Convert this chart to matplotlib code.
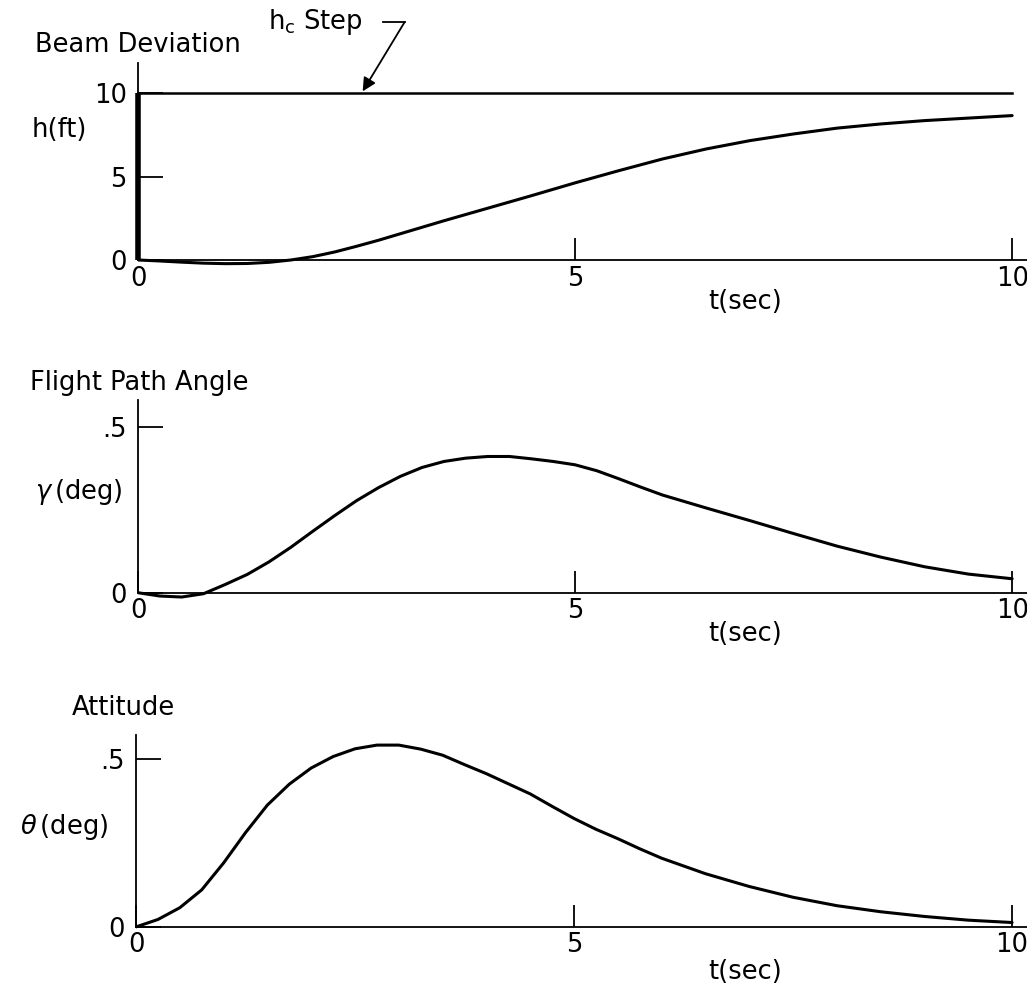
import numpy as np
import matplotlib
matplotlib.use("Agg")
import matplotlib.pyplot as plt

# beam deviation h(ft) vs t(sec)
t_h = [0, 0.25, 0.5, 0.75, 1.0, 1.25, 1.5, 1.75, 2.0, 2.25, 2.5, 2.75, 3.0, 3.5, 4.0, 4.5, 5.0, 5.5, 6.0,
       6.5, 7.0, 7.5, 8.0, 8.5, 9.0, 9.5, 10]
h = [0, -0.06, -0.13, -0.19, -0.22, -0.21, -0.14, 0.0, 0.2, 0.48, 0.82, 1.18, 1.57, 2.35, 3.1, 3.85, 4.62,
     5.35, 6.05, 6.65, 7.15, 7.55, 7.9, 8.15, 8.35, 8.5, 8.65]

# commanded step h_c
step_t = [0, 0, 10]
step_h = [0, 10, 10]

# flight path angle gamma(deg)
t_g = [0, 0.25, 0.5, 0.75, 1.0, 1.25, 1.5, 1.75, 2.0, 2.25, 2.5, 2.75, 3.0, 3.25, 3.5, 3.75, 4.0, 4.25,
       4.5, 4.75, 5.0, 5.25, 5.5, 5.75, 6.0, 6.5, 7.0, 7.5, 8.0, 8.5, 9.0, 9.5, 10]
gamma = [0, -0.01, -0.013, -0.003, 0.025, 0.055, 0.093, 0.137, 0.185, 0.232, 0.277, 0.316, 0.35, 0.377,
         0.395, 0.405, 0.41, 0.41, 0.403, 0.395, 0.385, 0.367, 0.343, 0.318, 0.294, 0.255, 0.217, 0.178,
         0.14, 0.107, 0.078, 0.056, 0.042]

# attitude theta(deg)
t_th = [0, 0.25, 0.5, 0.75, 1.0, 1.25, 1.5, 1.75, 2.0, 2.25, 2.5, 2.75, 3.0, 3.25, 3.5, 3.75, 4.0, 4.25,
        4.5, 4.75, 5.0, 5.25, 5.5, 5.75, 6.0, 6.5, 7.0, 7.5, 8.0, 8.5, 9.0, 9.5, 10]
theta = [0, 0.022, 0.057, 0.11, 0.19, 0.28, 0.362, 0.424, 0.472, 0.506, 0.529, 0.54, 0.54, 0.528, 0.51,
         0.482, 0.455, 0.425, 0.395, 0.358, 0.322, 0.29, 0.262, 0.232, 0.204, 0.158, 0.12, 0.088, 0.063,
         0.045, 0.031, 0.02, 0.013]

W, H = 1027, 986
FS = 18.5
plt.rcParams['font.family'] = 'DejaVu Sans'
plt.rcParams['font.size'] = FS


def fx(px):
    return px / W


def fy(py):
    return 1 - py / H


def style_axes(ax, ylim, yticks, ylabels):
    ax.set_xlim(0, 10.17)
    ax.set_ylim(*ylim)
    for s in ['top', 'right']:
        ax.spines[s].set_visible(False)
    ax.spines['bottom'].set_position(('data', 0))
    ax.spines['left'].set_bounds(0, ylim[1])
    ax.spines['bottom'].set_linewidth(1.3)
    ax.spines['left'].set_linewidth(1.3)
    ax.set_xticks([0, 5, 10])
    ax.set_xticklabels(['0', '5', '10'])
    ax.set_yticks(yticks)
    ax.set_yticklabels(ylabels)
    ax.tick_params(axis='x', direction='in', length=16, width=1.3, pad=4, labelsize=FS)
    ax.tick_params(axis='y', direction='in', length=18, width=1.3, pad=8, labelsize=FS)
    ax.patch.set_visible(False)


line_kw = dict(color='k', lw=2.2, solid_joinstyle='round', solid_capstyle='round')

fig = plt.figure(figsize=(W / 100, H / 100), dpi=100)

# --- beam deviation ---
ax1 = fig.add_axes([fx(138), fy(270), fx(1027 - 138), 207 / H])
ax1.plot(t_h, h, **line_kw)
ax1.plot(step_t[:2], step_h[:2], color='k', lw=4.0, solid_capstyle='butt', clip_on=False)
ax1.plot(step_t[1:], step_h[1:], color='k', lw=1.8, clip_on=False)
style_axes(ax1, (-0.6, 11.8), [0, 5, 10], ['0', '5', '10'])
ax1.annotate('', xy=(2.57, 10.1), xytext=(3.05, 14.25), annotation_clip=False,
             arrowprops=dict(arrowstyle='-|>', color='k', lw=1.3, mutation_scale=20,
                             shrinkA=0, shrinkB=0))
ax1.plot([2.80, 3.05], [14.25, 14.25], color='k', lw=1.3, clip_on=False)

fig.text(fx(35), fy(45), 'Beam Deviation', ha='left', va='center')
fig.text(fx(268), fy(22), r'$\mathregular{h_c}$ Step', ha='left', va='center')
fig.text(fx(32), fy(130), 'h(ft)', ha='left', va='center')
fig.text(fx(745), fy(302), 't(sec)', ha='center', va='center')

# --- flight path angle ---
ax2 = fig.add_axes([fx(138), fy(606), fx(1027 - 138), 206 / H])
ax2.plot(t_g, gamma, **line_kw)
style_axes(ax2, (-0.04, 0.58), [0, 0.5], ['0', '.5'])
fig.text(fx(30), fy(383), 'Flight Path Angle', ha='left', va='center')
fig.text(fx(35), fy(492), r'$\gamma\,$(deg)', ha='left', va='center')
fig.text(fx(745), fy(634), 't(sec)', ha='center', va='center')

# --- attitude ---
ax3 = fig.add_axes([fx(136), fy(937), fx(1027 - 136), 202 / H])
ax3.plot(t_th, theta, **line_kw)
style_axes(ax3, (-0.03, 0.57), [0, 0.5], ['0', '.5'])
fig.text(fx(72), fy(708), 'Attitude', ha='left', va='center')
fig.text(fx(20), fy(827), r'$\theta\,$(deg)', ha='left', va='center')
fig.text(fx(745), fy(972), 't(sec)', ha='center', va='center')

fig.savefig('out.png', dpi=100)
